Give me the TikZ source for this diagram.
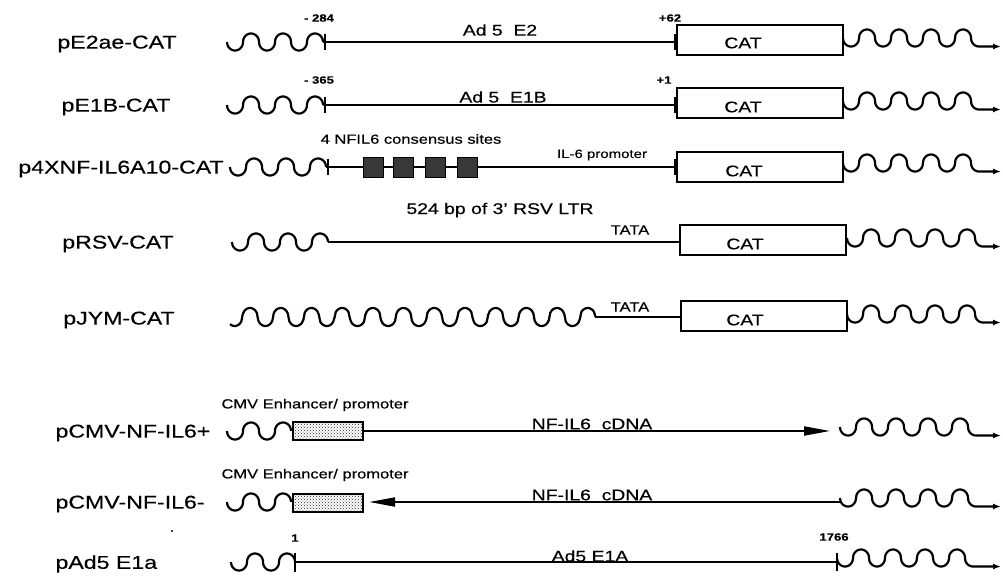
\documentclass[tikz,border=0pt]{standalone}
\usepackage{fontspec}
\setmainfont{Liberation Sans}[FakeStretch=1.25,FakeBold=0.4]
\usetikzlibrary{arrows.meta,patterns}
% semicircular-bump wave: xs, xe, centre y, origin x0, half-width h, amplitude A, sign of first bump
\newcommand\bumps[7]{%
  \draw[wv] plot[domain=#1:#2,samples=260] (\x,{#3+#7*#6*cos(180*floor((\x-#4)/#5))*sqrt(max(0,1-(2*mod(\x-#4,#5)/#5-1)^2))});}
\newcommand\lwave[4]{\bumps{#1}{#2}{#3}{#4}{16}{8.5}{1}}
\newcommand\rwave[2]{% xs, line y
  \draw[wv,-{Latex[length=8pt,width=6pt]}] plot[domain=#1:#1+136,samples=300] (\x,{#2-4+8.5*cos(180*floor((\x-#1)/16))*sqrt(max(0,1-(2*mod(\x-#1,16)/16-1)^2))}) -- (1001,#2+4.5);}
\begin{document}
\begin{tikzpicture}[x=1pt,y=-1pt,
  wv/.style={line width=2.2pt},
  dna/.style={line width=2pt},
  tickmark/.style={line width=2.6pt},
  lab/.style={font=\fontsize{18.5}{18.5}\selectfont},
  med/.style={font=\fontsize{15.5}{15.5}\selectfont},
  sm/.style={font=\fontsize{13.2}{13.2}\selectfont},
  tiny/.style={font=\fontsize{12}{12}\selectfont},
  num/.style={font=\fontsize{10.5}{10.5}\selectfont\bfseries},
  catbox/.style={draw, line width=2pt, minimum width=166pt, minimum height=30pt, inner sep=0},
  site/.style={draw, line width=0.8pt, fill=black!78, minimum size=20pt, inner sep=0},
  cmvbox/.style={draw, line width=2.2pt, pattern=crosshatch dots, pattern color=black!85, minimum width=70pt, minimum height=18pt, inner sep=0}]
\useasboundingbox (0,0) rectangle (1003,582);

% ---------- Row 1 : pE2ae-CAT
\node[lab] (l1) at (117,44) {pE2ae-CAT};
\lwave{227}{323}{42}{227}
\coordinate (s1) at (323,42);
\draw[tickmark] (325,34) -- (325,50);
\node[num] (n1a) at (319,18) {- 284};
\node[med] (t1) at (500,30) {Ad 5\ \ E2};
\node[num] (n1b) at (670,18) {+62};
\node[catbox] (c1) at (760,40) {};
\node[med] (k1) at (743,43) {CAT};
\draw[dna] (s1) -- (s1 -| c1.west);
\draw[line width=3.5pt] (676,34) -- (676,50);
\rwave{843}{42}

% ---------- Row 2 : pE1B-CAT
\node[lab] (l2) at (116,107) {pE1B-CAT};
\lwave{227}{323}{105}{227}
\coordinate (s2) at (323,105);
\draw[tickmark] (325,97) -- (325,113);
\node[num] (n2a) at (319,80) {- 365};
\node[med] (t2) at (503,97) {Ad 5\ \ E1B};
\node[num] (n2b) at (664,80) {+1};
\node[catbox] (c2) at (760,103) {};
\node[med] (k2) at (743,107) {CAT};
\draw[dna] (s2) -- (s2 -| c2.west);
\draw[line width=3.5pt] (676,97) -- (676,113);
\rwave{843}{105}

% ---------- Row 3 : p4XNF-IL6A10-CAT
\node[lab] (l3) at (121,169) {p4XNF-IL6A10-CAT};
\lwave{230}{326}{167}{230}
\coordinate (s3) at (326,167);
\draw[tickmark] (328,159) -- (328,175);
\node[sm] (t3) at (411,139) {4 NFIL6 consensus sites};
\node[tiny] (t3b) at (602,155) {IL-6 promoter};
\node[catbox] (c3) at (760,167) {};
\node[med] (k3) at (744,171) {CAT};
\draw[dna] (s3) -- (s3 -| c3.west);
\draw[line width=3.5pt] (676,159) -- (676,175);
\node[site] (q1) at (373,167) {};
\node[site] (q2) at (403,167) {};
\node[site] (q3) at (435,167) {};
\node[site] (q4) at (467,167) {};
\rwave{843}{167}

% ---------- Row 4 : pRSV-CAT
\node[lab] (l4) at (118,244) {pRSV-CAT};
\lwave{232}{328}{242}{232}
\coordinate (s4) at (328,242);
\node[med] (t4) at (500,210) {524 bp of 3' RSV LTR};
\node[sm] (t4b) at (630,230) {TATA};
\node[catbox] (c4) at (763,240) {};
\node[med] (k4) at (745,244) {CAT};
\draw[dna] (s4) -- (s4 -| c4.west);
\rwave{847}{242}

% ---------- Row 5 : pJYM-CAT
\node[lab] (l5) at (119,320) {pJYM-CAT};
\bumps{230}{595.4}{317}{227}{15.35}{9}{1}
\coordinate (s5) at (595,317);
\node[sm] (t5) at (630,307) {TATA};
\node[catbox] (c5) at (764,316) {};
\node[med] (k5) at (745,320) {CAT};
\draw[dna] (s5) -- (s5 -| c5.west);
\rwave{847}{318}

% ---------- Row 6 : pCMV-NF-IL6+
\node[lab, anchor=west] (l6) at (52,433) {pCMV-NF-IL6+};
\node[sm] (t6a) at (315,405) {CMV Enhancer/ promoter};
\lwave{227}{291}{431}{227}
\node[cmvbox] (m6) at (328,431) {};
\coordinate (e6) at (830,431);
\draw[dna,-{Triangle[length=26pt,width=9pt]}] (m6.east) -- (e6);
\node[med] (t6) at (592,424) {NF-IL6\ \ cDNA};
\rwave{840}{431}

% ---------- Row 7 : pCMV-NF-IL6-
\node[lab, anchor=west] (l7) at (52,504) {pCMV-NF-IL6-};
\node[sm] (t7a) at (315,475) {CMV Enhancer/ promoter};
\lwave{227}{291}{502}{227}
\node[cmvbox] (m7) at (328,503) {};
\coordinate (r7) at (840,502);
\draw[dna,-{Triangle[length=26pt,width=9pt]}] (r7) -- ([xshift=5pt]m7.east |- r7);
\node[med] (t7) at (592,495) {NF-IL6\ \ cDNA};
\rwave{840}{502}

% ---------- Row 8 : pAd5 E1a
\node[lab, anchor=west] (l8) at (52,564) {pAd5 E1a};
\fill (172,531) circle (1.2pt);
\lwave{231}{295}{562}{231}
\coordinate (s8) at (295,562);
\coordinate (e8) at (837,562);
\draw[tickmark] (295,553) -- (295,572);
\draw[tickmark] (837,553) -- (837,571);
\node[num] (n8a) at (295,538) {1};
\node[num] (n8b) at (834,537) {1766};
\draw[dna] (s8) -- (e8);
\node[med] (t8) at (590,556) {Ad5 E1A};
\rwave{837}{562}
\end{tikzpicture}
\end{document}
